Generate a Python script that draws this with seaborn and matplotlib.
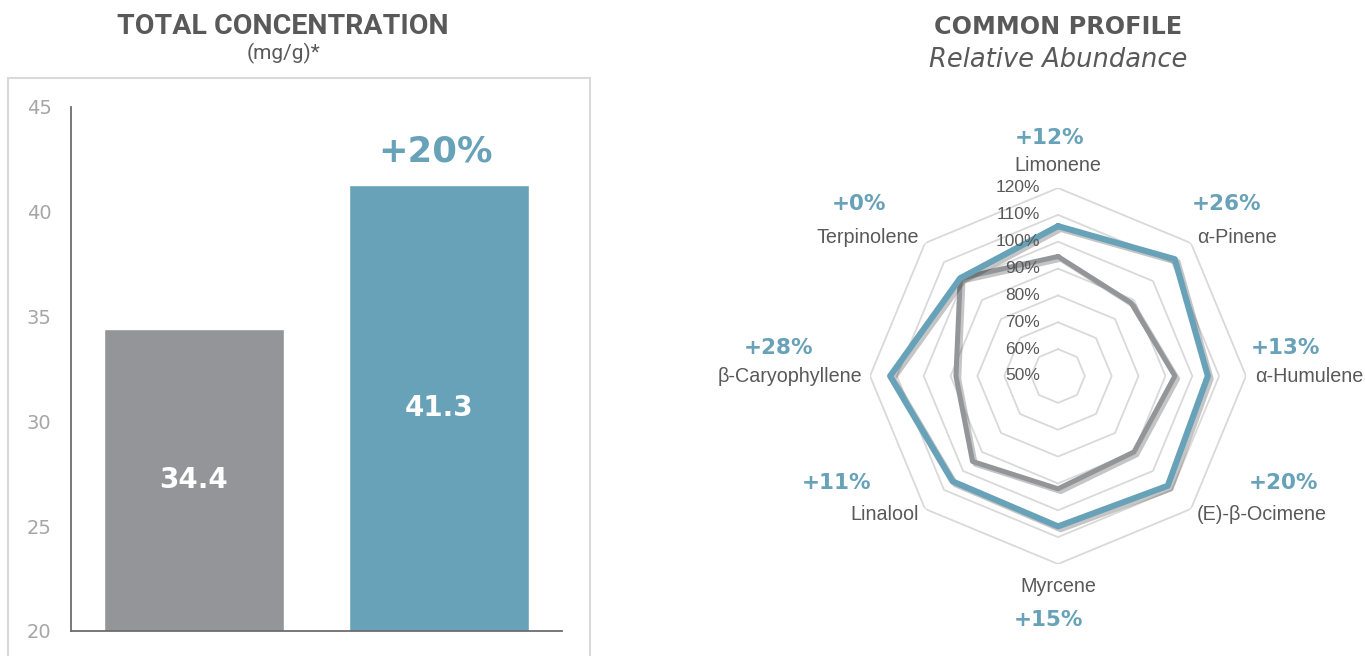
"""
Total concentration bar chart and common terpene profile radar.
"""

import matplotlib.pyplot as plt
import matplotlib.patheffects as pe
import numpy as np
import pandas as pd
import seaborn as sns
from matplotlib.patches import Rectangle


GROUPS = ["Standard", "Enhanced"]
TOTAL_MG_G = [34.4, 41.3]

TERPENES = [
    "Limonene", "α-Pinene", "α-Humulene", "(E)-β-Ocimene",
    "Myrcene", "Linalool", "β-Caryophyllene", "Terpinolene"
]
STANDARD_PROFILE = [94.5, 88.5, 93.5, 90.0, 92.0, 95.0, 88.0, 101.5]
ENHANCED_PROFILE = [105.8, 111.5, 105.8, 107.8, 106.0, 105.5, 112.5, 101.5]
PROFILE_CHANGE = ["+12%", "+26%", "+13%", "+20%", "+15%", "+11%", "+28%", "+0%"]
PROFILE_TICKS = [50, 60, 70, 80, 90, 100, 110, 120]

GRAY = "#939598"
BLUE = "#67a2b9"
TEXT = "#595959"
NARROW = ["Liberation Sans Narrow", "Liberation Sans", "DejaVu Sans"]

# label radius, alignment, change-label offset (px) for each spoke
LABEL_LAYOUT = [
    (128.5, "center", (-8, 27)),
    (123.0, "left", (30, 33)),
    (123.3, "left", (31, 28)),
    (123.0, "left", (87, 32)),
    (128.2, "center", (-10, -34)),
    (123.0, "right", (-83, 32)),
    (123.0, "right", (-83, 28)),
    (123.0, "right", (-60, 33)),
]


def draw_concentration(fig):
    fig.add_artist(Rectangle(
        (8 / 1365, -0.05), 582 / 1365, 1.05 - 78 / 656,
        transform=fig.transFigure, fill=False,
        edgecolor="#d9d9d9", linewidth=1.5
    ))

    ax = fig.add_axes([71 / 1365, 25 / 656, 491 / 1365, 524 / 656])
    df = pd.DataFrame({"group": GROUPS, "total": TOTAL_MG_G})
    sns.barplot(
        data=df, x="group", y="total", hue="group",
        palette=[GRAY, BLUE], width=0.735, legend=False,
        saturation=1, ax=ax
    )
    ax.set_ylim(20, 45)
    ax.set_xlim(-0.5, 1.5)
    ax.set_yticks(range(20, 46, 5))
    ax.set_xticks([-0.5, 0.5, 1.5])
    ax.set_xticklabels([])
    ax.set_xlabel("")
    ax.set_ylabel("")
    for side in ["top", "right"]:
        ax.spines[side].set_visible(False)
    for side in ["left", "bottom"]:
        ax.spines[side].set_color("#6d6d6d")
        ax.spines[side].set_linewidth(1.3)
    ax.tick_params(
        axis="both", direction="in", length=5, width=1.3,
        color="#6d6d6d", labelcolor="#a6a6a6", labelsize=14
    )
    ax.tick_params(axis="y", pad=14)

    for i, value in enumerate(TOTAL_MG_G):
        ax.text(
            i, (20 + value) / 2, f"{value:.1f}", ha="center", va="center",
            color="white", fontsize=20, fontweight="bold"
        )

    change = TOTAL_MG_G[1] / TOTAL_MG_G[0] - 1
    ax.annotate(
        f"+{change:.0%}", xy=(1, TOTAL_MG_G[1]), xytext=(-3, 24),
        textcoords="offset points", ha="center", va="center",
        color=BLUE, fontsize=25.5, fontweight="bold", annotation_clip=False
    )

    fig.text(283 / 1365, 1 - 27 / 656, "TOTAL CONCENTRATION", ha="center",
             va="center", fontsize=20.5, fontweight="bold", color=TEXT,
             family="Roboto")
    fig.text(283 / 1365, 1 - 53 / 656, "(mg/g)*", ha="center",
             va="center", fontsize=15, color=TEXT, family="Roboto")


def draw_profile(fig):
    ax = fig.add_axes(
        [870 / 1365, 92 / 656, 376 / 1365, 376 / 656], projection="polar"
    )
    ax.set_theta_zero_location("N")
    ax.set_theta_direction(-1)
    ax.set_ylim(PROFILE_TICKS[0], PROFILE_TICKS[-1])
    ax.grid(False)
    ax.spines["polar"].set_visible(False)
    ax.set_xticks([])
    ax.set_yticks([])
    ax.patch.set_alpha(0)

    angles = np.linspace(0, 2 * np.pi, len(TERPENES), endpoint=False)
    closed = np.append(angles, angles[0])

    for level in PROFILE_TICKS[1:]:
        ax.plot(closed, [level] * len(closed), color="#d9d9d9",
                linewidth=1.3, zorder=1)

    shadow = [pe.SimpleLineShadow(offset=(2, -2), alpha=0.25), pe.Normal()]
    ax.plot(closed, STANDARD_PROFILE + STANDARD_PROFILE[:1], color=GRAY,
            linewidth=3.6, zorder=3, path_effects=shadow)
    ax.plot(closed, ENHANCED_PROFILE + ENHANCED_PROFILE[:1], color=BLUE,
            linewidth=4.4, zorder=4, path_effects=shadow)

    for level in PROFILE_TICKS:
        ax.annotate(
            f"{level}%", xy=(0, level), xytext=(-13, 0),
            textcoords="offset points", ha="right", va="center",
            fontsize=12.5, color=TEXT, family=NARROW, annotation_clip=False,
            zorder=5
        )

    for angle, name, change, layout in zip(
        angles, TERPENES, PROFILE_CHANGE, LABEL_LAYOUT
    ):
        radius, align, (dx, dy) = layout
        ax.annotate(
            name, xy=(angle, radius), ha=align, va="center",
            fontsize=14.2, color=TEXT, family=NARROW, annotation_clip=False
        )
        ax.annotate(
            change, xy=(angle, radius), xytext=(dx * 0.72, dy * 0.72),
            textcoords="offset points", ha="center", va="center",
            fontsize=15.5, fontweight="bold", color=BLUE,
            annotation_clip=False
        )

    fig.text(1058 / 1365, 1 - 27 / 656, "COMMON PROFILE", ha="center",
             va="center", fontsize=17.2, fontweight="bold", color=TEXT)
    fig.text(1058 / 1365, 1 - 60 / 656, "Relative Abundance", ha="center",
             va="center", fontsize=18.5, style="italic", color=TEXT)


def main():
    sns.set_theme(style="white")
    plt.rcParams["font.family"] = ["DejaVu Sans"]
    fig = plt.figure(figsize=(13.65, 6.56), dpi=100)
    draw_concentration(fig)
    draw_profile(fig)
    fig.savefig("out.png", dpi=100)
    plt.close(fig)


if __name__ == "__main__":
    main()
